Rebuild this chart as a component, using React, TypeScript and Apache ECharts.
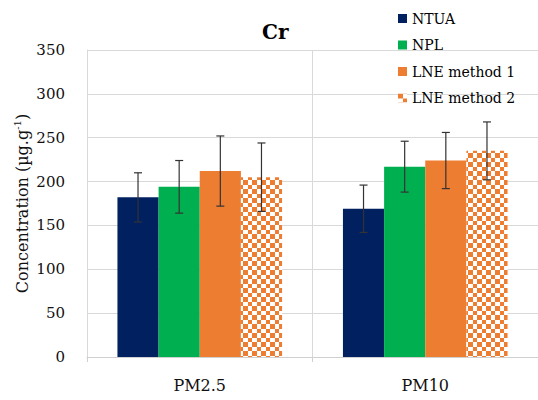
import React, { useEffect, useRef } from "react";
import * as echarts from "echarts";

const categories = ["PM2.5", "PM10"];
const seriesNames = ["NTUA", "NPL", "LNE method 1", "LNE method 2"];
const ntua = [182, 169];
const ntuaErr = [28, 27];
const npl = [194, 217];
const nplErr = [30, 29];
const lne1 = [212, 224];
const lne1Err = [40, 32];
const lne2 = [205, 235];
const lne2Err = [39, 33];
const yTicks = { min: 0, max: 350, interval: 50 };

const FONT = "DejaVu Serif";
const GAP = 0.27;

function checker(color: string) {
  const c = document.createElement("canvas");
  c.width = 9;
  c.height = 9;
  const ctx = c.getContext("2d")!;
  ctx.fillStyle = "#ffffff";
  ctx.fillRect(0, 0, 9, 9);
  ctx.fillStyle = color;
  ctx.fillRect(0, 0, 5, 5);
  ctx.fillRect(5, 5, 4, 4);
  return c;
}

export default function App() {
  const ref = useRef<HTMLDivElement>(null);
  useEffect(() => {
    document.body.style.margin = "0";
    const chart = echarts.init(ref.current!, undefined, { renderer: "svg" });
    const values = [ntua, npl, lne1, lne2];
    const errs = [ntuaErr, nplErr, lne1Err, lne2Err];
    const colors: any[] = [
      "#002060",
      "#00B050",
      "#ED7D31",
      { image: checker("#ED7D31"), repeat: "repeat" },
    ];
    const errData: number[][] = [];
    values.forEach((vals, si) => {
      vals.forEach((v, ci) => {
        errData.push([ci, v - errs[si][ci], v + errs[si][ci], si]);
      });
    });
    const bars = values.map((vals, si) => ({
      name: seriesNames[si],
      type: "bar",
      data: vals,
      barGap: "0%",
      barCategoryGap: GAP * 100 + "%",
      itemStyle: { color: colors[si] },
    }));
    chart.setOption({
      animation: false,
      title: {
        text: "Cr",
        left: 257,
        top: 17,
        textStyle: { fontFamily: FONT, fontSize: 20, fontWeight: "bold", color: "#000" },
      },
      legend: {
        orient: "vertical",
        left: 393,
        top: 5,
        itemWidth: 9,
        itemHeight: 9,
        itemGap: 9.5,
        icon: "rect",
        data: seriesNames,
        textStyle: { fontFamily: FONT, fontSize: 14, color: "#000", lineHeight: 17 },
      },
      grid: { left: 87, right: -3, top: 50, bottom: 43 },
      xAxis: {
        type: "category",
        data: categories,
        axisLine: { lineStyle: { color: "#d0d0d0" } },
        axisTick: { show: true, length: 5, lineStyle: { color: "#d0d0d0" } },
        splitLine: { show: true, lineStyle: { color: "#d9d9d9" } },
        axisLabel: { fontFamily: FONT, fontSize: 16, color: "#111", margin: 20 },
      },
      yAxis: {
        type: "value",
        min: yTicks.min,
        max: yTicks.max,
        interval: yTicks.interval,
        axisLine: { show: true, lineStyle: { color: "#d9d9d9" } },
        splitLine: { lineStyle: { color: "#d9d9d9" } },
        axisLabel: { fontFamily: FONT, fontSize: 15, color: "#111", margin: 22 },
        name: "{a|Concentration (µg.g}{b|-1}{a|)}",
        nameLocation: "middle",
        nameRotate: 90,
        nameGap: 55,
        nameMoveOverlap: false,
        nameTextStyle: {
          fontFamily: FONT,
          fontSize: 16,
          color: "#111",
          rich: {
            a: { fontFamily: FONT, fontSize: 16, color: "#111", lineHeight: 20 },
            b: { fontFamily: FONT, fontSize: 10, color: "#111", verticalAlign: "top", lineHeight: 20 },
          },
        },
      },
      series: [
        ...bars,
        {
          type: "custom",
          name: "err",
          data: errData,
          encode: { x: 0, y: [1, 2] },
          z: 10,
          silent: true,
          renderItem: (params: any, api: any) => {
            const ci = api.value(0);
            const lo = api.value(1);
            const hi = api.value(2);
            const si = api.value(3);
            const band = api.size([1, 0])[0];
            const groupW = band * (1 - GAP);
            const bw = groupW / 4;
            const cx = api.coord([ci, 0])[0] - groupW / 2 + bw * (si + 0.5);
            const yLo = api.coord([ci, lo])[1];
            const yHi = api.coord([ci, hi])[1];
            const style = { stroke: "#333", lineWidth: 1.2 };
            return {
              type: "group",
              children: [
                { type: "line", shape: { x1: cx, y1: yLo, x2: cx, y2: yHi }, style },
                { type: "line", shape: { x1: cx - 4, y1: yHi, x2: cx + 4, y2: yHi }, style },
                { type: "line", shape: { x1: cx - 4, y1: yLo, x2: cx + 4, y2: yLo }, style },
              ],
            };
          },
        },
      ],
    });
    return () => chart.dispose();
  }, []);
  return <div ref={ref} style={{ width: 538, height: 400 }} />;
}
